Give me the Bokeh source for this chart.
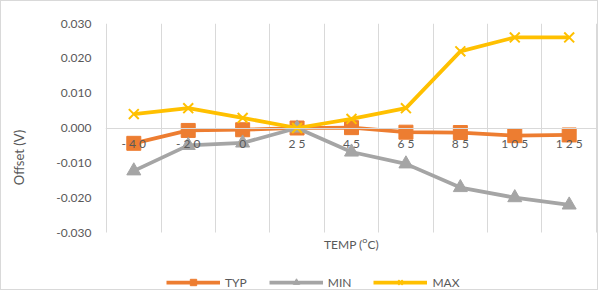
from bokeh.plotting import figure
from bokeh.models import Range1d, FixedTicker, LinearAxis, Legend, LegendItem, PrintfTickFormatter, Grid
from bokeh.embed import file_html
from bokeh.resources import INLINE

# ---- data ----
temps = ["-40", "-20", "0", "25", "45", "65", "85", "105", "125"]
typ = [-0.0044, -0.0007, -0.0005, 0.0, 0.0001, -0.0012, -0.0013, -0.0022, -0.0020]
mins = [-0.0123, -0.0050, -0.0043, 0.0, -0.0069, -0.0103, -0.0171, -0.0200, -0.0221]
maxs = [0.0040, 0.0057, 0.0029, 0.0, 0.0026, 0.0057, 0.0220, 0.0260, 0.0260]
y_ticks = [-0.03, -0.02, -0.01, 0.0, 0.01, 0.02, 0.03]
x_label = "TEMP (\u1d3cC)"
y_label = "Offset (V)"

FONT = "Lato"
TXT = "#595959"
GRID = "#d9d9d9"

W, H = 598, 290
TOP, PLOT_H, LEFT, RIGHT = 22, 209, 104, 2
y_lo, y_hi = y_ticks[0], y_ticks[-1]
# frame extends to the bottom of the canvas (room for title + legend inside)
extra = (H - TOP - PLOT_H) * (y_hi - y_lo) / PLOT_H
pad = 0.02  # keeps the outer grid lines fully inside the frame

xs = list(range(len(temps)))

p = figure(width=W, height=H,
           x_range=Range1d(-0.5 - pad, len(temps) - 0.5 + pad), y_range=Range1d(y_lo - extra, y_hi),
           output_backend="svg", toolbar_location=None, x_axis_location=None,
           min_border_left=LEFT, min_border_right=RIGHT, min_border_top=TOP, min_border_bottom=0)
p.styles = {"border": "1px solid #d9d9d9"}
p.outline_line_color = None
p.background_fill_color = "white"
p.border_fill_color = "white"

# grid: only vertical lines between categories, limited to the value range
p.xgrid.visible = False
p.ygrid.visible = False
g = Grid(dimension=0, ticker=FixedTicker(ticks=[i - 0.5 for i in range(len(temps) + 1)]))
g.bounds = (-1, len(temps))
g.cross_bounds = (y_lo, y_hi)
g.grid_line_color = GRID
g.grid_line_width = 1
p.add_layout(g)

# y axis
ya = p.yaxis[0]
ya.ticker = FixedTicker(ticks=y_ticks)
ya.formatter = PrintfTickFormatter(format="%.3f")
ya.major_tick_line_color = None
ya.minor_tick_line_color = None
ya.axis_line_color = None
ya.major_label_standoff = 8
ya.major_label_text_font = FONT
ya.major_label_text_font_size = "12px"
ya.major_label_text_color = TXT
ya.axis_label = y_label
ya.axis_label_standoff = 26
ya.axis_label_text_font = FONT
ya.axis_label_text_font_size = "13px"
ya.axis_label_text_font_style = "normal"
ya.axis_label_text_color = TXT

# series
series = [("TYP", typ, "#ED7D31", "square"),
          ("MIN", mins, "#A5A5A5", "triangle"),
          ("MAX", maxs, "#FFC000", "x")]
items = []
for name, ys, col, mk in series:
    lr = p.line(xs, ys, line_color=col, line_width=3.75)
    if mk == "x":
        mr = p.scatter(xs, ys, marker="x", size=14, line_color=col, line_width=2)
    else:
        mr = p.scatter(xs, ys, marker=mk, size=14, fill_color=col, line_color=col, line_width=1)
    items.append(LegendItem(label=name, renderers=[lr, mr]))

# category axis crossing at zero
za = LinearAxis(fixed_location=0,
                ticker=FixedTicker(ticks=xs),
                major_label_overrides={i: " ".join(t) for i, t in enumerate(temps)})
za.axis_line_color = GRID
za.axis_line_width = 1
za.major_tick_line_color = None
za.minor_tick_line_color = None
za.major_label_standoff = 2
za.major_label_text_font = FONT
za.major_label_text_font_size = "12px"
za.major_label_text_color = TXT
p.add_layout(za, "below")

# axis title at the bottom of the plot area
ta = LinearAxis(fixed_location=y_lo, ticker=FixedTicker(ticks=[]))
ta.axis_line_color = None
ta.major_tick_line_color = None
ta.minor_tick_line_color = None
ta.axis_label = x_label
ta.axis_label_standoff = 4
ta.axis_label_text_font = FONT
ta.axis_label_text_font_size = "12px"
ta.axis_label_text_font_style = "normal"
ta.axis_label_text_color = TXT
p.add_layout(ta, "below")

legend = Legend(items=items, orientation="horizontal", location=(61, 1))
legend.background_fill_alpha = 0
legend.border_line_color = None
legend.glyph_width = 54
legend.glyph_height = 16
legend.label_standoff = 5
legend.spacing = 22
legend.padding = 0
legend.margin = 0
legend.label_text_font = FONT
legend.label_text_font_size = "12px"
legend.label_text_color = TXT
p.add_layout(legend)

open("out.html", "w").write(file_html(p, INLINE))
